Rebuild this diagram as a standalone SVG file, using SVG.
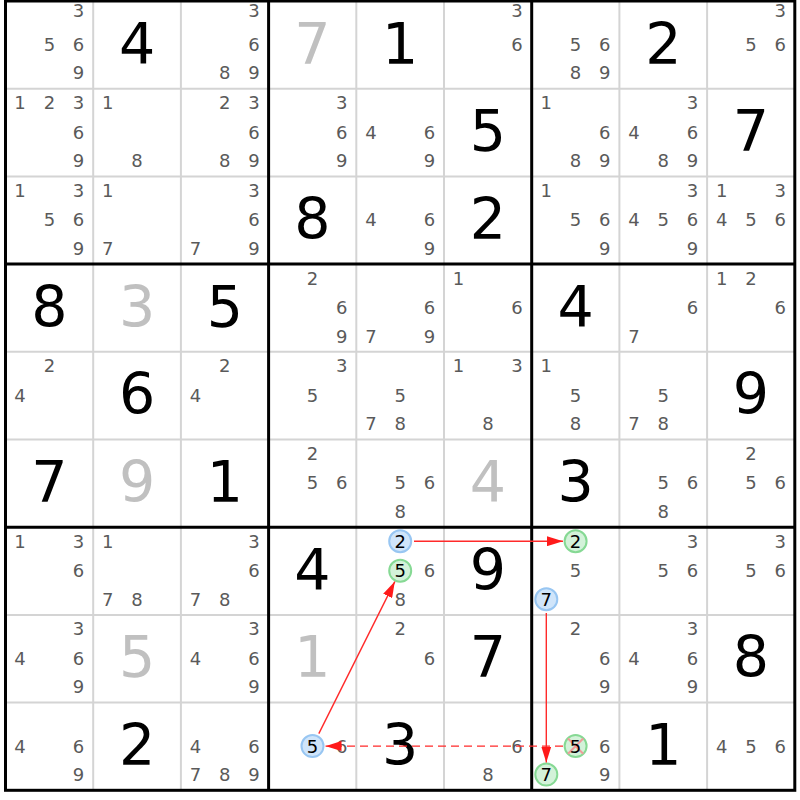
<svg xmlns="http://www.w3.org/2000/svg" width="800" height="800" viewBox="0 0 800 800">
<style>
text{font-family:"DejaVu Sans","Liberation Sans",sans-serif;text-anchor:middle}
.c{font-size:18px;fill:#5a5a5a}
.k{font-size:18px;fill:#000}
.g{font-size:57px;fill:#000}
.gg{font-size:57px;fill:#c0c0c0}
.thin{stroke:#d4d4d4;stroke-width:2}
.thick{stroke:#000;stroke-width:3}
.cb{fill:#d0e5fa;stroke:#98c6f2;stroke-width:2}
.cg{fill:#d3f2d9;stroke:#86d994;stroke-width:2}
.arr{stroke:#ff2a2a;stroke-width:1.4;fill:none}
.x{stroke:#f09a9a;stroke-width:2}
</style>
<defs>
<marker id="ah" markerUnits="userSpaceOnUse" markerWidth="16" markerHeight="10" refX="16" refY="5" orient="auto">
<path d="M0,0 L16,5 L0,10 z" fill="#ff1a1a"/>
</marker>
</defs>
<rect x="0" y="0" width="800" height="800" fill="#fff"/>
<g id="grid">
<line class="thin" x1="93.2" y1="1" x2="93.2" y2="790.3"/>
<line class="thin" x1="180.9" y1="1" x2="180.9" y2="790.3"/>
<line class="thin" x1="356.3" y1="1" x2="356.3" y2="790.3"/>
<line class="thin" x1="444" y1="1" x2="444" y2="790.3"/>
<line class="thin" x1="619.4" y1="1" x2="619.4" y2="790.3"/>
<line class="thin" x1="707.1" y1="1" x2="707.1" y2="790.3"/>
<line class="thin" x1="5.5" y1="88.7" x2="794.8" y2="88.7"/>
<line class="thin" x1="5.5" y1="176.4" x2="794.8" y2="176.4"/>
<line class="thin" x1="5.5" y1="351.8" x2="794.8" y2="351.8"/>
<line class="thin" x1="5.5" y1="439.5" x2="794.8" y2="439.5"/>
<line class="thin" x1="5.5" y1="614.9" x2="794.8" y2="614.9"/>
<line class="thin" x1="5.5" y1="702.6" x2="794.8" y2="702.6"/>
<line class="thick" x1="268.6" y1="1" x2="268.6" y2="790.3"/>
<line class="thick" x1="531.7" y1="1" x2="531.7" y2="790.3"/>
<line class="thick" x1="5.5" y1="264.1" x2="794.8" y2="264.1"/>
<line class="thick" x1="5.5" y1="527.2" x2="794.8" y2="527.2"/>
<rect x="5.5" y="1" width="789.3" height="789.3" fill="none" stroke="#000" stroke-width="3"/>
</g>
<g id="r1c1"><text class="c" x="78.6" y="16.5">3</text><text class="c" x="49.4" y="50.9">5</text><text class="c" x="78.6" y="50.9">6</text><text class="c" x="78.6" y="79.4">9</text></g>
<g id="r1c2"><text class="g" x="137.1" y="63.5">4</text></g>
<g id="r1c3"><text class="c" x="254" y="16.5">3</text><text class="c" x="254" y="50.9">6</text><text class="c" x="224.8" y="79.4">8</text><text class="c" x="254" y="79.4">9</text></g>
<g id="r1c4"><text class="gg" x="312.5" y="63.5">7</text></g>
<g id="r1c5"><text class="g" x="400.2" y="63.5">1</text></g>
<g id="r1c6"><text class="c" x="517.1" y="16.5">3</text><text class="c" x="517.1" y="50.9">6</text></g>
<g id="r1c7"><text class="c" x="575.6" y="50.9">5</text><text class="c" x="604.8" y="50.9">6</text><text class="c" x="575.6" y="79.4">8</text><text class="c" x="604.8" y="79.4">9</text></g>
<g id="r1c8"><text class="g" x="663.3" y="63.5">2</text></g>
<g id="r1c9"><text class="c" x="780.2" y="16.5">3</text><text class="c" x="751" y="50.9">5</text><text class="c" x="780.2" y="50.9">6</text></g>

<g id="r2c1"><text class="c" x="20.1" y="109.1">1</text><text class="c" x="49.4" y="109.1">2</text><text class="c" x="78.6" y="109.1">3</text><text class="c" x="78.6" y="138.6">6</text><text class="c" x="78.6" y="167.1">9</text></g>
<g id="r2c2"><text class="c" x="107.8" y="109.1">1</text><text class="c" x="137.1" y="167.1">8</text></g>
<g id="r2c3"><text class="c" x="224.8" y="109.1">2</text><text class="c" x="254" y="109.1">3</text><text class="c" x="254" y="138.6">6</text><text class="c" x="224.8" y="167.1">8</text><text class="c" x="254" y="167.1">9</text></g>
<g id="r2c4"><text class="c" x="341.7" y="109.1">3</text><text class="c" x="341.7" y="138.6">6</text><text class="c" x="341.7" y="167.1">9</text></g>
<g id="r2c5"><text class="c" x="370.9" y="138.6">4</text><text class="c" x="429.4" y="138.6">6</text><text class="c" x="429.4" y="167.1">9</text></g>
<g id="r2c6"><text class="g" x="487.9" y="151.2">5</text></g>
<g id="r2c7"><text class="c" x="546.3" y="109.1">1</text><text class="c" x="604.8" y="138.6">6</text><text class="c" x="575.6" y="167.1">8</text><text class="c" x="604.8" y="167.1">9</text></g>
<g id="r2c8"><text class="c" x="692.5" y="109.1">3</text><text class="c" x="634" y="138.6">4</text><text class="c" x="692.5" y="138.6">6</text><text class="c" x="663.3" y="167.1">8</text><text class="c" x="692.5" y="167.1">9</text></g>
<g id="r2c9"><text class="g" x="751" y="151.2">7</text></g>

<g id="r3c1"><text class="c" x="20.1" y="196.8">1</text><text class="c" x="78.6" y="196.8">3</text><text class="c" x="49.4" y="226.3">5</text><text class="c" x="78.6" y="226.3">6</text><text class="c" x="78.6" y="254.8">9</text></g>
<g id="r3c2"><text class="c" x="107.8" y="196.8">1</text><text class="c" x="107.8" y="254.8">7</text></g>
<g id="r3c3"><text class="c" x="254" y="196.8">3</text><text class="c" x="254" y="226.3">6</text><text class="c" x="195.5" y="254.8">7</text><text class="c" x="254" y="254.8">9</text></g>
<g id="r3c4"><text class="g" x="312.5" y="238.9">8</text></g>
<g id="r3c5"><text class="c" x="370.9" y="226.3">4</text><text class="c" x="429.4" y="226.3">6</text><text class="c" x="429.4" y="254.8">9</text></g>
<g id="r3c6"><text class="g" x="487.9" y="238.9">2</text></g>
<g id="r3c7"><text class="c" x="546.3" y="196.8">1</text><text class="c" x="575.6" y="226.3">5</text><text class="c" x="604.8" y="226.3">6</text><text class="c" x="604.8" y="254.8">9</text></g>
<g id="r3c8"><text class="c" x="692.5" y="196.8">3</text><text class="c" x="634" y="226.3">4</text><text class="c" x="663.3" y="226.3">5</text><text class="c" x="692.5" y="226.3">6</text><text class="c" x="692.5" y="254.8">9</text></g>
<g id="r3c9"><text class="c" x="721.7" y="196.8">1</text><text class="c" x="780.2" y="196.8">3</text><text class="c" x="721.7" y="226.3">4</text><text class="c" x="751" y="226.3">5</text><text class="c" x="780.2" y="226.3">6</text></g>

<g id="r4c1"><text class="g" x="49.4" y="326.6">8</text></g>
<g id="r4c2"><text class="gg" x="137.1" y="326.6">3</text></g>
<g id="r4c3"><text class="g" x="224.8" y="326.6">5</text></g>
<g id="r4c4"><text class="c" x="312.5" y="284.5">2</text><text class="c" x="341.7" y="314">6</text><text class="c" x="341.7" y="342.5">9</text></g>
<g id="r4c5"><text class="c" x="429.4" y="314">6</text><text class="c" x="370.9" y="342.5">7</text><text class="c" x="429.4" y="342.5">9</text></g>
<g id="r4c6"><text class="c" x="458.6" y="284.5">1</text><text class="c" x="517.1" y="314">6</text></g>
<g id="r4c7"><text class="g" x="575.6" y="326.6">4</text></g>
<g id="r4c8"><text class="c" x="692.5" y="314">6</text><text class="c" x="634" y="342.5">7</text></g>
<g id="r4c9"><text class="c" x="721.7" y="284.5">1</text><text class="c" x="751" y="284.5">2</text><text class="c" x="780.2" y="314">6</text></g>

<g id="r5c1"><text class="c" x="49.4" y="372.2">2</text><text class="c" x="20.1" y="401.7">4</text></g>
<g id="r5c2"><text class="g" x="137.1" y="414.3">6</text></g>
<g id="r5c3"><text class="c" x="224.8" y="372.2">2</text><text class="c" x="195.5" y="401.7">4</text></g>
<g id="r5c4"><text class="c" x="341.7" y="372.2">3</text><text class="c" x="312.5" y="401.7">5</text></g>
<g id="r5c5"><text class="c" x="400.2" y="401.7">5</text><text class="c" x="370.9" y="430.2">7</text><text class="c" x="400.2" y="430.2">8</text></g>
<g id="r5c6"><text class="c" x="458.6" y="372.2">1</text><text class="c" x="517.1" y="372.2">3</text><text class="c" x="487.9" y="430.2">8</text></g>
<g id="r5c7"><text class="c" x="546.3" y="372.2">1</text><text class="c" x="575.6" y="401.7">5</text><text class="c" x="575.6" y="430.2">8</text></g>
<g id="r5c8"><text class="c" x="663.3" y="401.7">5</text><text class="c" x="634" y="430.2">7</text><text class="c" x="663.3" y="430.2">8</text></g>
<g id="r5c9"><text class="g" x="751" y="414.3">9</text></g>

<g id="r6c1"><text class="g" x="49.4" y="502">7</text></g>
<g id="r6c2"><text class="gg" x="137.1" y="502">9</text></g>
<g id="r6c3"><text class="g" x="224.8" y="502">1</text></g>
<g id="r6c4"><text class="c" x="312.5" y="459.9">2</text><text class="c" x="312.5" y="489.4">5</text><text class="c" x="341.7" y="489.4">6</text></g>
<g id="r6c5"><text class="c" x="400.2" y="489.4">5</text><text class="c" x="429.4" y="489.4">6</text><text class="c" x="400.2" y="517.9">8</text></g>
<g id="r6c6"><text class="gg" x="487.9" y="502">4</text></g>
<g id="r6c7"><text class="g" x="575.6" y="502">3</text></g>
<g id="r6c8"><text class="c" x="663.3" y="489.4">5</text><text class="c" x="692.5" y="489.4">6</text><text class="c" x="663.3" y="517.9">8</text></g>
<g id="r6c9"><text class="c" x="751" y="459.9">2</text><text class="c" x="751" y="489.4">5</text><text class="c" x="780.2" y="489.4">6</text></g>

<g id="r7c1"><text class="c" x="20.1" y="547.6">1</text><text class="c" x="78.6" y="547.6">3</text><text class="c" x="78.6" y="577.1">6</text></g>
<g id="r7c2"><text class="c" x="107.8" y="547.6">1</text><text class="c" x="107.8" y="605.6">7</text><text class="c" x="137.1" y="605.6">8</text></g>
<g id="r7c3"><text class="c" x="254" y="547.6">3</text><text class="c" x="254" y="577.1">6</text><text class="c" x="195.5" y="605.6">7</text><text class="c" x="224.8" y="605.6">8</text></g>
<g id="r7c4"><text class="g" x="312.5" y="589.7">4</text></g>
<g id="r7c5"><circle class="cb" cx="400.2" cy="541.2" r="11"/><text class="k" x="400.2" y="547.6">2</text><circle class="cg" cx="400.2" cy="570.7" r="11"/><text class="k" x="400.2" y="577.1">5</text><text class="c" x="429.4" y="577.1">6</text><text class="c" x="400.2" y="605.6">8</text></g>
<g id="r7c6"><text class="g" x="487.9" y="589.7">9</text></g>
<g id="r7c7"><circle class="cg" cx="575.6" cy="541.2" r="11"/><text class="k" x="575.6" y="547.6">2</text><text class="c" x="575.6" y="577.1">5</text><circle class="cb" cx="546.3" cy="599.2" r="11"/><text class="k" x="546.3" y="605.6">7</text></g>
<g id="r7c8"><text class="c" x="692.5" y="547.6">3</text><text class="c" x="663.3" y="577.1">5</text><text class="c" x="692.5" y="577.1">6</text></g>
<g id="r7c9"><text class="c" x="780.2" y="547.6">3</text><text class="c" x="751" y="577.1">5</text><text class="c" x="780.2" y="577.1">6</text></g>

<g id="r8c1"><text class="c" x="78.6" y="635.3">3</text><text class="c" x="20.1" y="664.8">4</text><text class="c" x="78.6" y="664.8">6</text><text class="c" x="78.6" y="693.3">9</text></g>
<g id="r8c2"><text class="gg" x="137.1" y="677.4">5</text></g>
<g id="r8c3"><text class="c" x="254" y="635.3">3</text><text class="c" x="195.5" y="664.8">4</text><text class="c" x="254" y="664.8">6</text><text class="c" x="254" y="693.3">9</text></g>
<g id="r8c4"><text class="gg" x="312.5" y="677.4">1</text></g>
<g id="r8c5"><text class="c" x="400.2" y="635.3">2</text><text class="c" x="429.4" y="664.8">6</text></g>
<g id="r8c6"><text class="g" x="487.9" y="677.4">7</text></g>
<g id="r8c7"><text class="c" x="575.6" y="635.3">2</text><text class="c" x="604.8" y="664.8">6</text><text class="c" x="604.8" y="693.3">9</text></g>
<g id="r8c8"><text class="c" x="692.5" y="635.3">3</text><text class="c" x="634" y="664.8">4</text><text class="c" x="692.5" y="664.8">6</text><text class="c" x="692.5" y="693.3">9</text></g>
<g id="r8c9"><text class="g" x="751" y="677.4">8</text></g>

<g id="r9c1"><text class="c" x="20.1" y="752.5">4</text><text class="c" x="78.6" y="752.5">6</text><text class="c" x="78.6" y="781">9</text></g>
<g id="r9c2"><text class="g" x="137.1" y="765.1">2</text></g>
<g id="r9c3"><text class="c" x="195.5" y="752.5">4</text><text class="c" x="254" y="752.5">6</text><text class="c" x="195.5" y="781">7</text><text class="c" x="224.8" y="781">8</text><text class="c" x="254" y="781">9</text></g>
<g id="r9c4"><circle class="cb" cx="312.5" cy="746.1" r="11"/><text class="k" x="312.5" y="752.5">5</text><text class="c" x="341.7" y="752.5">6</text></g>
<g id="r9c5"><text class="g" x="400.2" y="765.1">3</text></g>
<g id="r9c6"><text class="c" x="517.1" y="752.5">6</text><text class="c" x="487.9" y="781">8</text></g>
<g id="r9c7"><circle class="cg" cx="575.6" cy="746.1" r="11"/><line class="x" x1="568" y1="738.5" x2="583.2" y2="753.7"/><line class="x" x1="583.2" y1="738.5" x2="568" y2="753.7"/><text class="k" x="575.6" y="752.5">5</text><text class="c" x="604.8" y="752.5">6</text><circle class="cg" cx="546.3" cy="774.6" r="11"/><text class="k" x="546.3" y="781">7</text><text class="c" x="604.8" y="781">9</text></g>
<g id="r9c8"><text class="g" x="663.3" y="765.1">1</text></g>
<g id="r9c9"><text class="c" x="721.7" y="752.5">4</text><text class="c" x="751" y="752.5">5</text><text class="c" x="780.2" y="752.5">6</text></g>

<g id="connectors">
<line class="arr" x1="414" y1="541.2" x2="563" y2="541.2" marker-end="url(#ah)"/>
<line class="arr" x1="546.3" y1="613" x2="546.3" y2="762.5" marker-end="url(#ah)"/>
<line class="arr" x1="563" y1="746.1" x2="325.5" y2="746.1" stroke-dasharray="8,5" marker-end="url(#ah)"/>
<line class="arr" x1="318.8" y1="733.6" x2="394.8" y2="581.6" marker-end="url(#ah)"/>
</g>
</svg>
